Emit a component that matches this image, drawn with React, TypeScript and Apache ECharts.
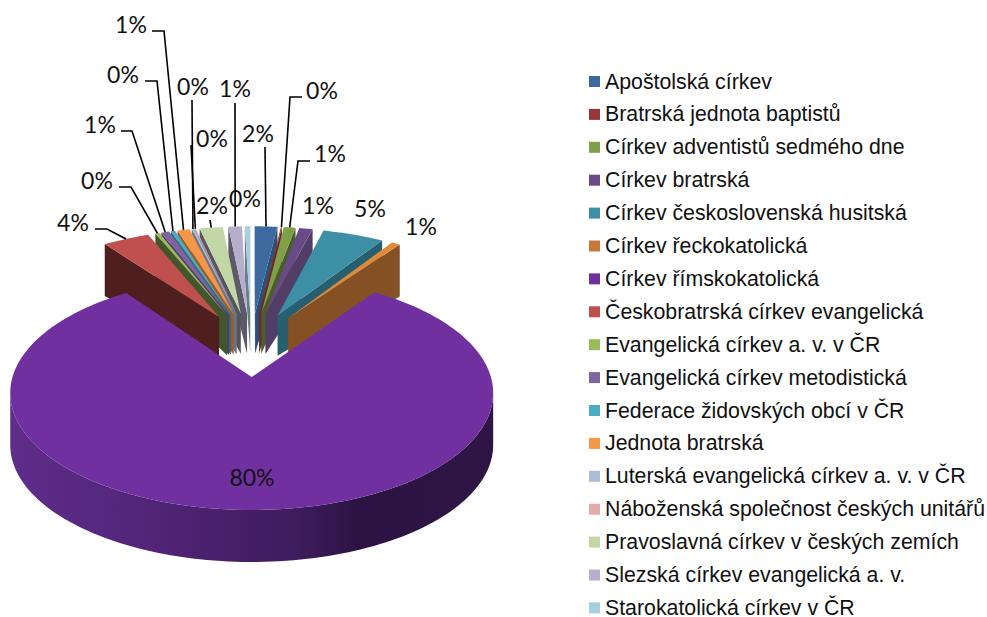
import React, { useEffect, useRef } from "react";
import * as echarts from "echarts";

const categories = [
  "Apoštolská církev", "Bratrská jednota baptistů", "Církev adventistů sedmého dne", "Církev bratrská",
  "Církev československá husitská", "Církev řeckokatolická", "Církev římskokatolická",
  "Českobratrská církev evangelická", "Evangelická církev a. v. v ČR", "Evangelická církev metodistická",
  "Federace židovských obcí v ČR", "Jednota bratrská", "Luterská evangelická církev a. v. v ČR",
  "Náboženská společnost českých unitářů", "Pravoslavná církev v českých zemích",
  "Slezská církev evangelická a. v.", "Starokatolická církev v ČR",
];
const shares = [1.85, 0.08, 0.95, 1.1, 5.0, 0.7, 80.4, 3.8, 0.35, 0.65, 0.35, 1.0, 0.2, 0.1, 1.9, 1.1, 0.45];
const colors = [
  "#3c6a9e", "#953735", "#7f9f49", "#684a86", "#3c8fa5", "#c8763a", "#7030a0", "#c0504d", "#9bbb59",
  "#8064a2", "#4bacc6", "#f79646", "#a9bcd8", "#e0abaa", "#c3d6a5", "#b7aecb", "#a6cfde",
];
const topColors = colors.map((c, i) => (i === 5 ? "#dd8a3c" : c));
const wallColors = [
  "#2d4f77", "#6b2826", "#4a5e2b", "#523d66", "#285f70", "#855023", "#3e1b5e", "#4f1f1f", "#43552a",
  "#4f3e66", "#2f6b7c", "#9a5d2c", "#6a7588", "#8a6a6a", "#555560", "#5c5a68", "#677f89",
];

// Layout of the percentage labels: centre, then the leader's elbow points (the leader ends on the slice).
const labelLayout: [number, number, number[][] | null][] = [
  [258, 133, [[265, 147]]],
  [322, 90, [[302, 97], [290, 97]]],
  [330, 153, [[310, 161], [298, 161]]],
  [318, 205, null],
  [370, 208, null],
  [421, 226, null],
  [252, 477, null],
  [73, 222, [[95, 229], [107, 229]]],
  [97, 180, [[119, 187], [131, 187]]],
  [100, 124, [[121, 131], [132, 131]]],
  [123, 74, [[145, 81], [157, 81]]],
  [131, 24, [[152, 31], [164, 31]]],
  [193, 86, [[192, 100]]],
  [212, 138, [[191, 145]]],
  [212, 205, [[210, 220]]],
  [235, 88, [[235, 103]]],
  [245, 198, null],
];

const APEX_X = 251.2;
const APEX_Y = 377;
const RX = 239.2;
const RY = 114.8;
const K = 0.1367;
const EXPLODE = 0.3;
const H_APEX = 40;
const H_RIM = 52;

const total = shares.reduce((a, b) => a + b, 0);
const starts: number[] = [];
{
  let acc = 0;
  for (const s of shares) {
    starts.push((acc / total) * 360);
    acc += s;
  }
}
const rad = (d: number) => (d * Math.PI) / 180;

function project(X: number, Y: number): [number, number] {
  const d = 1 - K * Y;
  return [APEX_X + (RX * X) / d, APEX_Y + (RY * Y) / d];
}

function sliceGeometry(i: number) {
  const a0 = starts[i];
  const a1 = a0 + (shares[i] / total) * 360;
  const mid = (a0 + a1) / 2;
  const ax = EXPLODE * Math.sin(rad(mid));
  const ay = -EXPLODE - EXPLODE * Math.cos(rad(mid));
  const rim = (a: number) => project(ax + Math.sin(rad(a)), ay - Math.cos(rad(a)));
  return { a0, a1, mid, apex: project(ax, ay), rim };
}

function renderSlice(i: number) {
  const { a0, a1, apex, rim } = sliceGeometry(i);
  const n = Math.max(2, Math.ceil((a1 - a0) / 1.5));
  const arc: [number, number][] = [];
  for (let j = 0; j <= n; j++) arc.push(rim(a0 + ((a1 - a0) * j) / n));
  const face: [number, number][] = [apex, ...arc];
  const down = (p: [number, number], t: number): [number, number] => [p[0], p[1] + H_APEX + (H_RIM - H_APEX) * t];
  const children: any[] = [];
  const wall = (points: [number, number][], fill: any) =>
    children.push({ type: "polygon", shape: { points }, style: { fill, stroke: null }, silent: true });

  const first = arc[0];
  const last = arc[arc.length - 1];
  if (first[0] <= apex[0] + 1) wall([apex, first, down(first, 1), down(apex, 0)], wallColors[i]);
  if (last[0] >= apex[0] - 1) wall([last, apex, down(apex, 0), down(last, 1)], wallColors[i]);

  // near-facing part of the rim
  let runStart = -1;
  const flush = (end: number) => {
    if (runStart < 0) return;
    const seg = arc.slice(runStart, end + 1);
    const bottom = seg.map((p) => down(p, 1)).reverse();
    const fill = i === 6
      ? new echarts.graphic.LinearGradient(0, 0, 1, 0, [
          { offset: 0, color: "#5f2d8a" },
          { offset: 0.3, color: "#512477" },
          { offset: 0.6, color: "#3d1b5d" },
          { offset: 0.72, color: "#2c1343" },
          { offset: 1, color: "#2e1546" },
        ])
      : wallColors[i];
    wall([...seg, ...bottom], fill);
    runStart = -1;
  };
  for (let j = 0; j < arc.length - 1; j++) {
    if (arc[j + 1][0] < arc[j][0]) {
      if (runStart < 0) runStart = j;
    } else flush(j);
  }
  flush(arc.length - 1);

  children.push({ type: "polygon", shape: { points: face }, style: { fill: topColors[i], stroke: null }, silent: true });
  return { type: "group", children };
}

function renderLabel(i: number) {
  const [cx, cy, elbows] = labelLayout[i];
  const children: any[] = [];
  if (elbows) {
    const { a0, a1, rim } = sliceGeometry(i);
    children.push({
      type: "polyline",
      shape: { points: [...elbows, rim((a0 + a1) / 2)] },
      style: { stroke: "#000", lineWidth: 1.6, fill: null },
      silent: true,
    });
  }
  children.push({
    type: "text",
    silent: true,
    style: {
      x: cx,
      y: cy,
      text: `${Math.round(shares[i])}%`,
      font: "23px Lato",
      fill: "#111",
      textAlign: "center",
      textVerticalAlign: "middle",
    },
  });
  return { type: "group", children };
}

export default function App() {
  const ref = useRef<HTMLDivElement>(null);
  useEffect(() => {
    const chart = echarts.init(ref.current!, null, { renderer: "svg" });
    // paint from the back of the pie to the front
    const order = categories
      .map((_, i) => i)
      .sort((a, b) => Math.abs(180 - sliceGeometry(b).mid) - Math.abs(180 - sliceGeometry(a).mid));
    const sliceSeries = categories.map((name, i) => ({
      type: "custom",
      name,
      coordinateSystem: "none",
      data: [[shares[i]]],
      itemStyle: { color: colors[i] },
      z: 2 + order.indexOf(i),
      renderItem: () => renderSlice(i),
      silent: true,
    }));
    chart.setOption({
      animation: false,
      backgroundColor: "#fff",
      legend: {
        orient: "vertical",
        left: 584,
        top: 66,
        width: 400,
        height: 580,
        data: categories,
        icon: "rect",
        itemWidth: 11,
        itemHeight: 11,
        itemGap: 11.9,
        selectedMode: false,
        textStyle: { fontFamily: "Liberation Sans", fontSize: 21.3, lineHeight: 20, color: "#111" },
      },
      series: [
        ...sliceSeries,
        {
          type: "custom",
          name: "labels",
          coordinateSystem: "none",
          data: shares.map((s) => [s]),
          z: 40,
          silent: true,
          renderItem: (params: any) => renderLabel(params.dataIndex),
        },
      ],
    });
    return () => chart.dispose();
  }, []);
  return <div ref={ref} style={{ position: "absolute", left: 0, top: 0, width: 987, height: 617 }} />;
}
